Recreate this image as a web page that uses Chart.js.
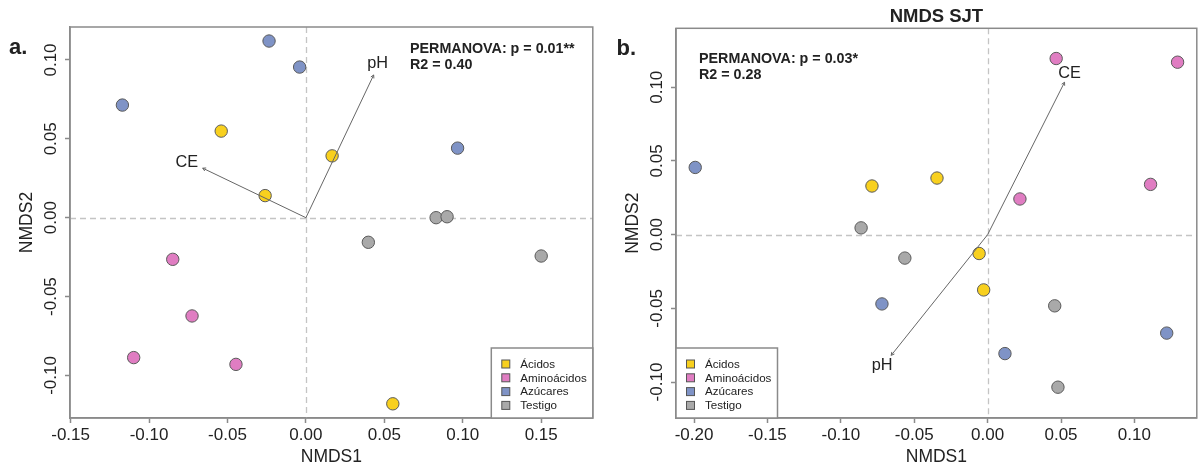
<!DOCTYPE html>
<html><head><meta charset="utf-8">
<script src="https://cdn.jsdelivr.net/npm/chart.js@4/dist/chart.umd.min.js"></script>
<style>
html,body{margin:0;padding:0;background:#fff;}
#wrap{position:relative;width:1204px;height:467px;overflow:hidden;}
canvas{position:absolute;top:0;}
#a{left:0;}
#b{left:600px;}
</style></head><body>
<div id="wrap"><canvas id="a" width="600" height="467"></canvas><canvas id="b" width="604" height="467"></canvas></div>
<script>
const groups = ['Ácidos', 'Aminoácidos', 'Azúcares', 'Testigo'];
const groupColors = ['#F8D01E', '#E07DC2', '#7F93C6', '#A9A9A9'];

// ---- Panel a ----
const aAcidosX = [-0.054, -0.026, 0.0167, 0.0554];
const aAcidosY = [0.0549, 0.0140, 0.0392, -0.1180];
const aAminoX = [-0.0849, -0.0726, -0.1098, -0.0446];
const aAminoY = [-0.0264, -0.0623, -0.0887, -0.0930];
const aAzucX = [-0.0235, -0.0040, -0.1170, 0.0967];
const aAzucY = [0.1120, 0.0955, 0.0714, 0.0441];
const aTestX = [0.0830, 0.0900, 0.0398, 0.1500];
const aTestY = [0.0000, 0.0006, -0.0156, -0.0243];
const aArrowLabels = ['CE', 'pH'];
const aArrowX = [-0.0658, 0.0432];
const aArrowY = [0.0314, 0.0905];
const aXTicks = [-0.15, -0.10, -0.05, 0.00, 0.05, 0.10, 0.15];
const aYTicks = [-0.10, -0.05, 0.00, 0.05, 0.10];
const aStats = ['PERMANOVA: p = 0.01**', 'R2 = 0.40'];

// ---- Panel b ----
const bAcidosX = [-0.0788, -0.0345, -0.0058, -0.0027];
const bAcidosY = [0.0330, 0.0384, -0.0128, -0.0375];
const bAminoX = [0.0467, 0.1294, 0.0220, 0.1110];
const bAminoY = [0.1195, 0.1170, 0.0242, 0.0341];
const bAzucX = [-0.1992, -0.0720, 0.0118, 0.1220];
const bAzucY = [0.0456, -0.0470, -0.0807, -0.0668];
const bTestX = [-0.0862, -0.0564, 0.0457, 0.0479];
const bTestY = [0.0046, -0.0159, -0.0483, -0.1035];
const bArrowLabels = ['CE', 'pH'];
const bArrowX = [0.0524, -0.0657];
const bArrowY = [0.1034, -0.0819];
const bXTicks = [-0.20, -0.15, -0.10, -0.05, 0.00, 0.05, 0.10];
const bYTicks = [-0.10, -0.05, 0.00, 0.05, 0.10];
const bStats = ['PERMANOVA: p = 0.03*', 'R2 = 0.28'];

const FONT = '"Liberation Sans", Arial, Helvetica, sans-serif';
const TXT = '#222';
const FRAME = '#8a8a8a';

function pts(xs, ys) { return xs.map((x, i) => ({x: x, y: ys[i]})); }
function ds(i, xs, ys) {
  return {label: groups[i], data: pts(xs, ys), backgroundColor: groupColors[i],
    borderColor: '#5a5a5a', borderWidth: 1, pointRadius: 6.2, pointHoverRadius: 6.2};
}

const nmdsPlugin = {
  id: 'nmds',
  beforeDatasetsDraw(chart, args, o) {
    const ctx = chart.ctx, ca = chart.chartArea, xs = chart.scales.x, ys = chart.scales.y;
    ctx.save();
    ctx.strokeStyle = '#c4c4c4'; ctx.lineWidth = 1.3; ctx.setLineDash([6, 4]);
    const x0 = Math.round(xs.getPixelForValue(0)) + 0.5, y0 = Math.round(ys.getPixelForValue(0)) + 0.5;
    ctx.beginPath(); ctx.moveTo(x0, ca.top); ctx.lineTo(x0, ca.bottom); ctx.stroke();
    ctx.beginPath(); ctx.moveTo(ca.left, y0); ctx.lineTo(ca.right, y0); ctx.stroke();
    ctx.restore();
  },
  afterDatasetsDraw(chart, args, o) {
    const ctx = chart.ctx, xs = chart.scales.x, ys = chart.scales.y;
    const ox = xs.getPixelForValue(0), oy = ys.getPixelForValue(0);
    ctx.save();
    o.arrowX.forEach((ax, i) => {
      const tx = xs.getPixelForValue(ax), ty = ys.getPixelForValue(o.arrowY[i]);
      ctx.strokeStyle = '#666'; ctx.lineWidth = 1;
      ctx.beginPath(); ctx.moveTo(ox, oy); ctx.lineTo(tx, ty); ctx.stroke();
      const ang = Math.atan2(ty - oy, tx - ox), h = 3.5;
      ctx.beginPath();
      ctx.moveTo(tx - h * Math.cos(ang - 0.5), ty - h * Math.sin(ang - 0.5));
      ctx.lineTo(tx, ty);
      ctx.lineTo(tx - h * Math.cos(ang + 0.5), ty - h * Math.sin(ang + 0.5));
      ctx.stroke();
      ctx.fillStyle = TXT; ctx.font = '16.3px ' + FONT;
      ctx.textAlign = 'center'; ctx.textBaseline = 'middle';
      ctx.fillText(o.arrowLabels[i], tx + o.labelOffsets[i][0], ty + o.labelOffsets[i][1]);
    });
    ctx.restore();
  },
  afterDraw(chart, args, o) {
    const ctx = chart.ctx, ca = chart.chartArea, xs = chart.scales.x, ys = chart.scales.y;
    ctx.save();
    // frame
    ctx.strokeStyle = FRAME; ctx.lineWidth = 1.5;
    ctx.strokeRect(ca.left, ca.top, ca.right - ca.left, ca.bottom - ca.top);
    // x tick labels
    ctx.fillStyle = TXT; ctx.font = '17px ' + FONT;
    ctx.textAlign = 'center'; ctx.textBaseline = 'middle';
    xs.ticks.forEach(t => ctx.fillText(t.value.toFixed(2), xs.getPixelForValue(t.value), ca.bottom + 17));
    // y tick labels rotated
    ys.ticks.forEach(t => {
      ctx.save();
      ctx.translate(ca.left - 19, ys.getPixelForValue(t.value));
      ctx.rotate(-Math.PI / 2);
      ctx.fillText(t.value.toFixed(2), 0, 0);
      ctx.restore();
    });
    // axis titles
    ctx.font = '17.5px ' + FONT;
    ctx.fillText('NMDS1', (ca.left + ca.right) / 2, ca.bottom + 39);
    ctx.save();
    ctx.translate(ca.left - 43, (ca.top + ca.bottom) / 2);
    ctx.rotate(-Math.PI / 2);
    ctx.fillText('NMDS2', 0, 0);
    ctx.restore();
    // panel label
    ctx.textAlign = 'left'; ctx.textBaseline = 'alphabetic';
    ctx.font = 'bold 22px ' + FONT;
    ctx.fillText(o.panel, o.panelX, o.panelY);
    // title
    if (o.title) {
      ctx.font = 'bold 18.5px ' + FONT; ctx.textAlign = 'center';
      ctx.fillText(o.title, (ca.left + ca.right) / 2, o.titleY);
    }
    // stats
    ctx.font = 'bold 14.3px ' + FONT; ctx.textAlign = 'left';
    ctx.fillText(o.stats[0], o.statsX, o.statsY);
    ctx.fillText(o.stats[1], o.statsX, o.statsY + 15.5);
    // legend
    const lw = 101.5, lh = 70;
    const lx = o.legendSide === 'right' ? ca.right - lw : ca.left;
    const ly = ca.bottom - lh;
    ctx.fillStyle = '#fff'; ctx.fillRect(lx, ly, lw, lh);
    ctx.strokeStyle = FRAME; ctx.lineWidth = 1.5; ctx.strokeRect(lx, ly, lw, lh);
    ctx.font = '11.6px ' + FONT; ctx.textBaseline = 'middle';
    groups.forEach((g, i) => {
      const yy = ly + 16 + i * 13.8;
      ctx.fillStyle = groupColors[i];
      ctx.fillRect(lx + 10.5, yy - 4, 8, 8);
      ctx.strokeStyle = '#555'; ctx.lineWidth = 1;
      ctx.strokeRect(lx + 10.5, yy - 4, 8, 8);
      ctx.fillStyle = TXT;
      ctx.fillText(g, lx + 29, yy + 0.5);
    });
    ctx.restore();
  }
};

function makeChart(id, sets, xr, yr, xTicks, yTicks, pad, yW, opts) {
  const axis = (ticksArr, min, max) => ({
    type: 'linear', min: min, max: max,
    afterBuildTicks: s => { s.ticks = ticksArr.map(v => ({value: v})); },
    ticks: {color: 'rgba(0,0,0,0)', font: {size: 17}, includeBounds: false},
    grid: {drawOnChartArea: false, drawTicks: true, tickLength: 5, tickColor: FRAME, tickWidth: 1.5, color: FRAME},
    border: {display: true, color: FRAME, width: 1.5}
  });
  const xa = axis(xTicks, xr[0], xr[1]); xa.afterFit = s => { s.height = 49; };
  const ya = axis(yTicks, yr[0], yr[1]); ya.afterFit = s => { s.width = yW; };
  return new Chart(document.getElementById(id), {
    type: 'scatter',
    data: {datasets: sets},
    options: {
      responsive: false, animation: false, devicePixelRatio: 1,
      layout: {padding: pad},
      scales: {x: xa, y: ya},
      plugins: {legend: {display: false}, tooltip: {enabled: false}, nmds: opts}
    },
    plugins: [nmdsPlugin]
  });
}

makeChart('a',
  [ds(0, aAcidosX, aAcidosY), ds(1, aAminoX, aAminoY), ds(2, aAzucX, aAzucY), ds(3, aTestX, aTestY)],
  [-0.1504, 0.1829], [-0.127, 0.1209], aXTicks, aYTicks,
  {top: 27, right: 5, left: 0, bottom: 0}, 70,
  {panel: 'a.', panelX: 9, panelY: 53.5, title: null, stats: aStats, statsX: 410, statsY: 53.3,
   legendSide: 'right', arrowX: aArrowX, arrowY: aArrowY, arrowLabels: aArrowLabels,
   labelOffsets: [[-16, -6], [4, -11]]});

makeChart('b',
  [ds(0, bAcidosX, bAcidosY), ds(1, bAminoX, bAminoY), ds(2, bAzucX, bAzucY), ds(3, bTestX, bTestY)],
  [-0.2123, 0.1425], [-0.1244, 0.1400], bXTicks, bYTicks,
  {top: 28.3, right: 4.7, left: 0, bottom: 0}, 76,
  {panel: 'b.', panelX: 16.5, panelY: 55, title: 'NMDS SJT', titleY: 21.7, stats: bStats, statsX: 99, statsY: 63.3,
   legendSide: 'left', arrowX: bArrowX, arrowY: bArrowY, arrowLabels: bArrowLabels,
   labelOffsets: [[5, -9], [-9, 10]]});
</script>
</body></html>
